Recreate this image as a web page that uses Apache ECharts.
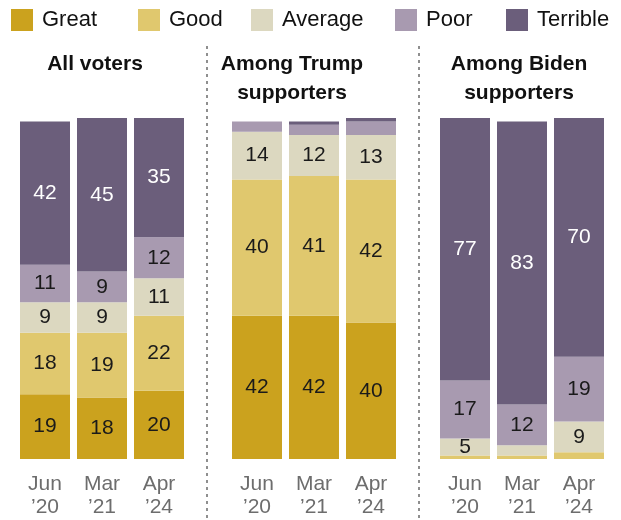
<!DOCTYPE html>
<html>
<head>
<meta charset="utf-8">
<script src="https://cdn.jsdelivr.net/npm/echarts@6/dist/echarts.min.js"></script>
<style>
html,body{margin:0;padding:0;background:#fff;}
#chart{width:621px;height:520px;}
</style>
</head>
<body>
<div id="chart"></div>
<script>
var categories = ['Jun\n\u201920', 'Mar\n\u201921', 'Apr\n\u201924'];
var ratings = ['Great', 'Good', 'Average', 'Poor', 'Terrible'];
var panelTitles = ['All voters', 'Among Trump\nsupporters', 'Among Biden\nsupporters'];

var allGreat = [19, 18, 20];
var allGood = [18, 19, 22];
var allAverage = [9, 9, 11];
var allPoor = [11, 9, 12];
var allTerrible = [42, 45, 35];

var trumpGreat = [42, 42, 40];
var trumpGood = [40, 41, 42];
var trumpAverage = [14, 12, 13];
var trumpPoor = [3, 3, 4];
var trumpTerrible = [0, 1, 1];

var bidenGreat = [0, 0, 0];
var bidenGood = [1, 1, 2];
var bidenAverage = [5, 3, 9];
var bidenPoor = [17, 12, 19];
var bidenTerrible = [77, 83, 70];

var colors = ['#CBA21E', '#E0C86E', '#DCD8C0', '#A89AB0', '#6B5E7B'];
var labelColors = ['#1a1a1a', '#1a1a1a', '#1a1a1a', '#1a1a1a', '#ffffff'];
var FONT = "'Liberation Sans', Arial, sans-serif";

var panels = [
  [allGreat, allGood, allAverage, allPoor, allTerrible],
  [trumpGreat, trumpGood, trumpAverage, trumpPoor, trumpTerrible],
  [bidenGreat, bidenGood, bidenAverage, bidenPoor, bidenTerrible]
];
var gridLefts = [16.5, 228.5, 436.5];
var titleX = [95, 292, 519];
var legendLefts = [11, 138, 251, 395, 506];

var grids = [], xAxes = [], yAxes = [], series = [];
panels.forEach(function (panel, p) {
  grids.push({left: gridLefts[p], top: 118, width: 171, height: 341, containLabel: false});
  xAxes.push({
    type: 'category', gridIndex: p, data: categories,
    axisLine: {show: false}, axisTick: {show: false},
    axisLabel: {fontFamily: FONT, fontSize: 21, color: '#6d6d6d', lineHeight: 23, margin: 14}
  });
  yAxes.push({type: 'value', gridIndex: p, min: 0, max: 100, show: false, splitLine: {show: false}});
  panel.forEach(function (vals, r) {
    series.push({
      name: ratings[r], type: 'bar', stack: 'p' + p,
      xAxisIndex: p, yAxisIndex: p, barWidth: 50,
      data: vals,
      itemStyle: {color: colors[r]},
      label: {
        show: true, position: 'inside', fontFamily: FONT, fontSize: 21,
        color: labelColors[r],
        formatter: function (d) { return d.value >= 5 ? String(d.value) : ''; }
      },
      emphasis: {disabled: true},
      animation: false
    });
  });
});
var graphics = panelTitles.map(function (t, p) {
  return {
    type: 'text', x: titleX[p], y: 50,
    style: {text: t, textAlign: 'center', textVerticalAlign: 'top',
      fontFamily: FONT, fontWeight: 'bold', fontSize: 21, lineHeight: 29, fill: '#111'}
  };
});
[207, 419].forEach(function (x) {
  graphics.push({
    type: 'line', shape: {x1: x, y1: 46, x2: x, y2: 520},
    style: {stroke: '#8f8f8f', lineWidth: 2, lineDash: [3, 4]}
  });
});

var legends = ratings.map(function (name, i) {
  return {
    data: [name], left: legendLefts[i], top: 9, padding: 0,
    itemWidth: 22, itemHeight: 22, icon: 'rect',
    selectedMode: false,
    textStyle: {fontFamily: FONT, fontSize: 22, color: '#111', padding: [0, 0, 0, 4]}
  };
});

var chart = echarts.init(document.getElementById('chart'), null, {renderer: 'canvas'});
chart.setOption({
  animation: false,
  color: colors,
  legend: legends,
  grid: grids,
  xAxis: xAxes,
  yAxis: yAxes,
  series: series,
  graphic: graphics
});
</script>
</body>
</html>
